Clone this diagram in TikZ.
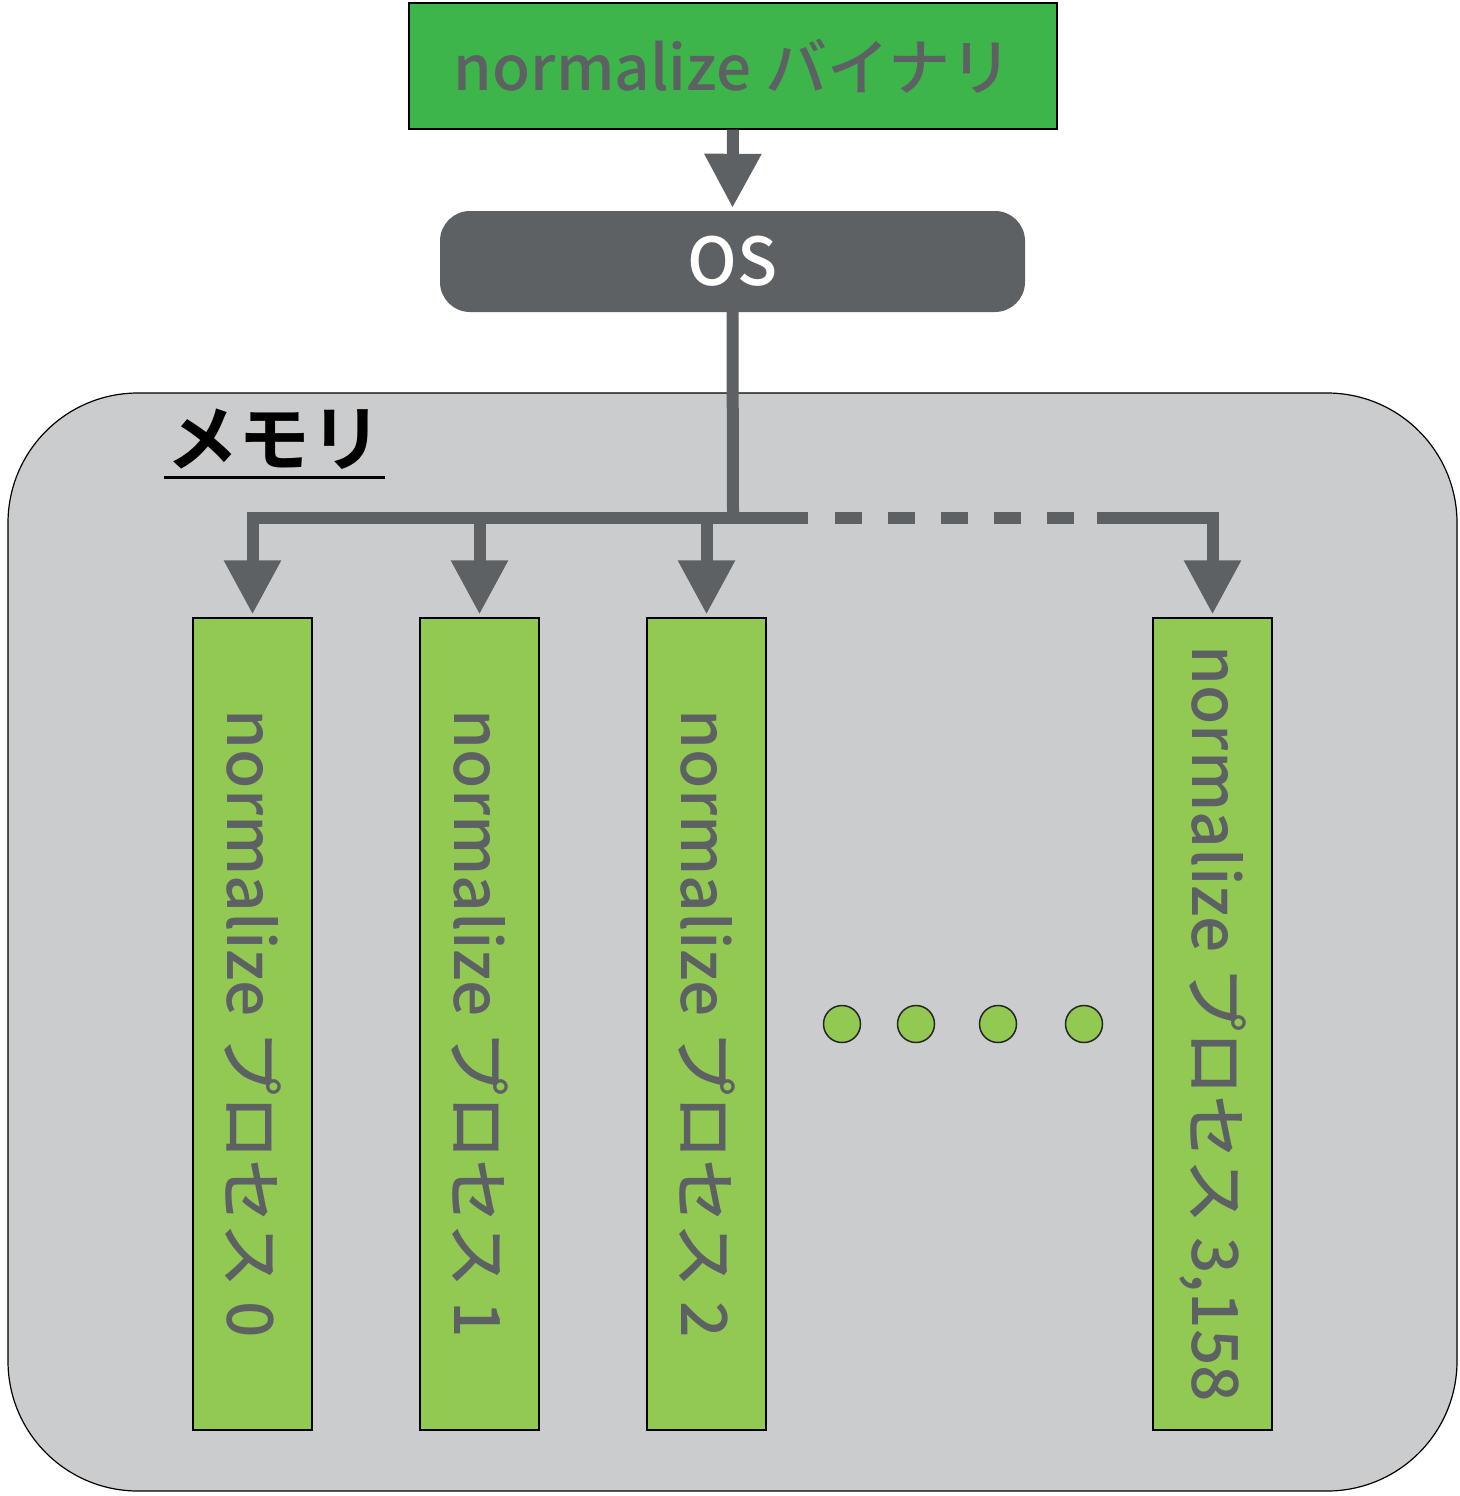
\documentclass[tikz,border=0pt]{standalone}
\usepackage{fontspec}
\setmainfont{Noto Sans CJK JP Medium}
\newfontfamily\jpbold{Noto Sans CJK JP Bold}
\usetikzlibrary{arrows.meta}
\definecolor{bingreen}{HTML}{3DB54A}
\definecolor{procgreen}{HTML}{92C953}
\definecolor{darkgray}{HTML}{5E6164}
\definecolor{memgray}{HTML}{CBCCCE}
\tikzset{
  boxline/.style={draw=black, line width=1.2pt},
  binbox/.style={boxline, fill=bingreen, minimum width=648pt, minimum height=126pt, inner sep=0pt},
  osbox/.style={fill=darkgray, rounded corners=30pt, minimum width=585pt, minimum height=101pt, inner sep=0pt},
  procbox/.style={boxline, fill=procgreen, minimum width=119pt, minimum height=812pt, inner sep=0pt},
  proclabel/.style={rotate=-90, text=darkgray, font=\fontsize{64}{66}\selectfont, inner sep=0pt},
  dotmark/.style={circle, draw=black!85, line width=1.5pt, fill=procgreen, minimum size=37pt, inner sep=0pt},
  flow/.style={draw=darkgray, line width=12pt},
  flowarrow/.style={flow, line join=miter, -{Triangle[width=54pt,length=54pt]}},
}
\begin{document}
\begin{tikzpicture}[x=1pt, y=-1pt]
\useasboundingbox (0,0) rectangle (1459,1496);

% memory area
\draw[line width=1.2pt, fill=memgray, rounded corners=130pt] (8,393) rectangle (1457,1491);
\node[anchor=base west, inner sep=0pt, font=\jpbold\fontsize{72}{74}\selectfont] (memlabel) at (166,465) {メモリ};
\draw[line width=3pt] (164,477) -- (385,477);

% binary and OS
\node[binbox, text=darkgray, font=\fontsize{62}{64}\selectfont] (bin) at (733,66) {normalize バイナリ};
\node[osbox, text=white, font=\fontsize{66}{68}\selectfont] (os) at (732.5,261.5) {OS};

% processes
\node[procbox] (p0) at (252.5,1024) {};
\node[procbox] (p1) at (479.5,1024) {};
\node[procbox] (p2) at (706.5,1024) {};
\node[procbox] (p3) at (1212.5,1024) {};
\node[proclabel] (l0) at (p0.center) {normalize プロセス 0};
\node[proclabel] (l1) at (p1.center) {normalize プロセス 1};
\node[proclabel] (l2) at (p2.center) {normalize プロセス 2};
\node[proclabel] (l3) at (p3.center) {normalize プロセス 3,158};

% ellipsis dots
\node[dotmark] (d1) at (842,1024) {};
\node[dotmark] (d2) at (916,1024) {};
\node[dotmark] (d3) at (998,1024) {};
\node[dotmark] (d4) at (1084,1024) {};

% connectors
\coordinate (hub) at (733,518);
\coordinate (dashA) at (808,518);
\coordinate (dashB) at (835,518);
\coordinate (dashC) at (1074,518);
\coordinate (dashD) at (1097,518);
\draw[flowarrow, shorten >=3pt] (bin.south) -- (os.north);
\draw[flow] (os.south) -- ([yshift=6pt]hub);
\draw[flowarrow, shorten >=3pt] ([xshift=6pt]hub) -| (p0.north);
\draw[flowarrow, shorten >=3pt] (hub) -| (p1.north);
\draw[flowarrow, shorten >=3pt] (hub) -| (p2.north);
\draw[flow] (hub) -- (dashA);
\draw[flow, dash pattern=on 27pt off 26pt] (dashB) -- (dashC);
\draw[flowarrow, shorten >=3pt] (dashD) -| (p3.north);
\end{tikzpicture}
\end{document}
